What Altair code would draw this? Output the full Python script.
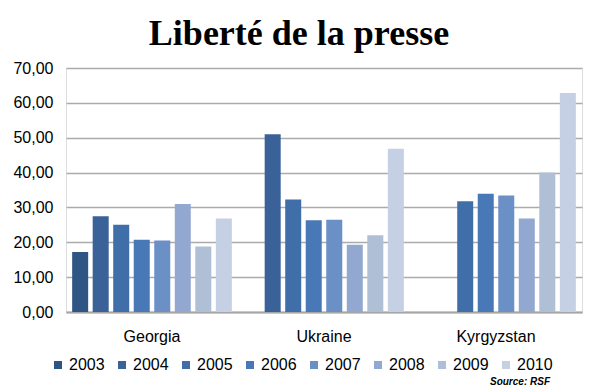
import altair as alt
import pandas as pd

countries = ["Georgia", "Ukraine", "Kyrgyzstan"]
years = ["2003", "2004", "2005", "2006", "2007", "2008", "2009", "2010"]
georgia = [17.2, 27.5, 25.0, 20.7, 20.5, 31.0, 18.8, 26.8]
ukraine = [None, 51.0, 32.3, 26.3, 26.5, 19.3, 22.0, 46.8]
kyrgyzstan = [None, None, 31.8, 33.9, 33.4, 26.8, 40.0, 62.8]
colors = ["#2E5583", "#3A6298", "#3F6EA8", "#4878B5", "#6A90C6", "#93A8D0", "#AEBFD6", "#C5D0E4"]
y_ticks = [0, 10, 20, 30, 40, 50, 60, 70]

rows = []
for country, vals in zip(countries, [georgia, ukraine, kyrgyzstan]):
    for yr, v in zip(years, vals):
        if v is not None:
            rows.append({"Country": country, "Year": yr, "Value": v})
df = pd.DataFrame(rows)

FONT = "Liberation Sans"

bars = alt.Chart(df).mark_bar().encode(
    x=alt.X("Country:N", sort=countries,
            scale=alt.Scale(paddingInner=0, paddingOuter=0),
            axis=alt.Axis(title=None, labelAngle=0, ticks=False, labelPadding=16,
                          labelFontSize=16, labelFont=FONT, labelColor="black",
                          domainColor="#A6A6A6", domainWidth=2, grid=False)),
    xOffset=alt.XOffset("Year:N", sort=years,
                        scale=alt.Scale(domain=years, paddingInner=0.22, paddingOuter=0.3)),
    y=alt.Y("Value:Q",
            scale=alt.Scale(domain=[0, 70], nice=False),
            axis=alt.Axis(title=None, values=y_ticks, ticks=False, domain=False,
                          labelExpr="replace(format(datum.value, '.2f'), '.', ',')",
                          labelFontSize=16, labelFont=FONT, labelColor="black",
                          labelPadding=13, gridColor="#ABABAB", gridWidth=1.5)),
    color=alt.Color("Year:N", sort=years,
                    scale=alt.Scale(domain=years, range=colors),
                    legend=alt.Legend(title=None, orient="none", direction="horizontal",
                                      legendX=-16, legendY=289, symbolType="square",
                                      symbolSize=64, symbolStrokeWidth=0, labelFontSize=16,
                                      labelFont=FONT, labelColor="black", labelOffset=3,
                                      columnPadding=9, padding=0)),
)

source = alt.Chart(alt.Data(values=[{"t": "Source: RSF"}])).mark_text(
    align="right", baseline="middle", font=FONT, fontSize=10,
    fontStyle="italic", fontWeight="bold", color="black"
).encode(text="t:N", x=alt.value(484), y=alt.value(314))

chart = alt.layer(bars, source).properties(
    width=516, height=244,
    autosize=alt.AutoSizeParams(type="none"),
    padding={"left": 58, "top": 60, "right": 10, "bottom": 79},
    title=alt.TitleParams("Liberté de la presse", font="Liberation Serif", fontSize=36,
                          fontWeight="bold", color="black", anchor="middle",
                          dx=-25, offset=7),
).configure_view(stroke=None).configure(background="white")

chart.save("out.html", embed_options={"renderer": "svg", "actions": False})
